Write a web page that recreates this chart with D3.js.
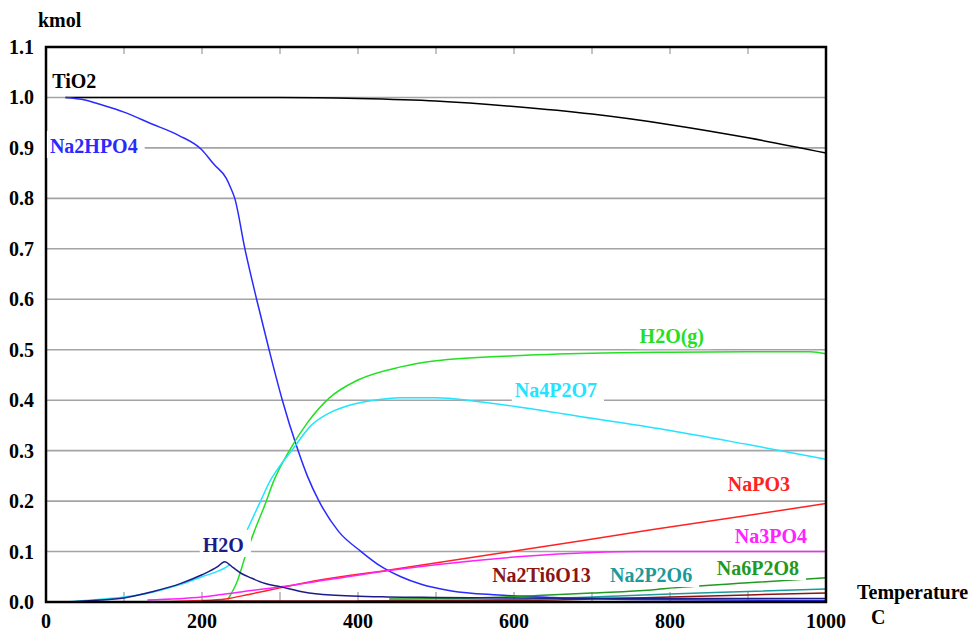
<!DOCTYPE html>
<html>
<head>
  <title>Equilibrium amounts vs temperature</title>
  <script src="https://d3js.org/d3.v7.min.js"></script>
  <style>
    body { margin: 0; background: #fff; }
    text { font-family: "Liberation Serif", "Times New Roman", serif; font-weight: bold; font-size: 20px; }
  </style>
</head>
<body>
<script type="text/javascript">
  // temperatures (C) and amounts (kmol), one pair of arrays per species
  var tio2T = [25, 100, 200, 300, 400, 500, 600, 700, 800, 900, 1000];
  var tio2 = [1.0, 1.0, 1.0, 1.0, 0.998, 0.993, 0.982, 0.967, 0.946, 0.92, 0.89];

  var na2hpo4T = [25, 50, 70, 100, 135, 170, 200, 215, 231, 237, 242, 255, 270, 286, 303, 321, 335, 350, 375, 404, 430, 455, 481, 520, 580, 650, 750, 1000];
  var na2hpo4 = [1.0, 0.995, 0.986, 0.971, 0.948, 0.925, 0.896, 0.868, 0.84, 0.82, 0.80, 0.70, 0.60, 0.50, 0.40, 0.31, 0.25, 0.20, 0.14, 0.10, 0.07, 0.05, 0.035, 0.022, 0.014, 0.009, 0.005, 0.003];

  var h2ogT = [233, 245, 256, 267, 280, 292, 312, 335, 363, 400, 455, 500, 600, 700, 800, 900, 980, 1000];
  var h2og = [0.005, 0.04, 0.093, 0.14, 0.19, 0.24, 0.30, 0.355, 0.404, 0.44, 0.466, 0.478, 0.488, 0.493, 0.495, 0.496, 0.496, 0.492];

  // null marks the break in the Na4P2O7 curve
  var na4p2o7T = [25, 50, 100, 135, 173, 200, 230, 236, 245, 258, 275, 288, 300, 315, 340, 360, 389, 420, 455, 500, 550, 600, 700, 800, 900, 1000];
  var na4p2o7 = [0, 0.003, 0.01, 0.019, 0.035, 0.05, 0.068, 0.074, null, 0.143, 0.2, 0.242, 0.27, 0.30, 0.35, 0.372, 0.39, 0.40, 0.405, 0.405, 0.398, 0.388, 0.364, 0.34, 0.312, 0.283];

  var h2oT = [30, 60, 100, 135, 173, 200, 220, 229, 240, 250, 264, 280, 301, 330, 365, 438, 500, 600, 800, 1000];
  var h2o = [0, 0.003, 0.008, 0.02, 0.037, 0.054, 0.07, 0.08, 0.068, 0.057, 0.047, 0.037, 0.03, 0.02, 0.014, 0.01, 0.009, 0.008, 0.007, 0.007];

  var napo3T = [25, 100, 200, 230, 260, 300, 353, 438, 609, 776, 1000];
  var napo3 = [0, 0, 0.003, 0.006, 0.015, 0.028, 0.044, 0.063, 0.103, 0.143, 0.195];

  var na3po4T = [130, 200, 250, 301, 365, 438, 500, 609, 700, 760, 1000];
  var na3po4 = [0.004, 0.01, 0.02, 0.03, 0.045, 0.062, 0.074, 0.09, 0.098, 0.1, 0.1];

  var na6p2o8T = [440, 550, 630, 700, 776, 805, 900, 1000];
  var na6p2o8 = [0.006, 0.008, 0.013, 0.018, 0.024, 0.028, 0.038, 0.048];

  var na2p2o6T = [400, 500, 600, 700, 800, 900, 1000];
  var na2p2o6 = [0.002, 0.003, 0.005, 0.01, 0.016, 0.021, 0.026];

  var na2ti6o13T = [200, 400, 600, 700, 800, 900, 1000];
  var na2ti6o13 = [0.002, 0.002, 0.003, 0.006, 0.01, 0.014, 0.018];

  var xTicks = [0, 200, 400, 600, 800, 1000];
  var yTicks = [0.0, 0.1, 0.2, 0.3, 0.4, 0.5, 0.6, 0.7, 0.8, 0.9, 1.0, 1.1];

  var w = 972, h = 631;
  var svg = d3.select("body").append("svg")
    .attr("width", w)
    .attr("height", h);

  var x = d3.scaleLinear().domain([0, 1000]).range([46, 826]);
  var y = d3.scaleLinear().domain([0, 1.1]).range([602, 47]);

  function pts(ts, vs) {
    return ts.map(function(t, i){ return [t, vs[i]]; });
  }

  // name, points, colour, label spot in data units (left, baseline)
  var series = [
    { name: "TiO2", d: pts(tio2T, tio2), c: "#000000", lx: 8, ly: 1.019 },
    { name: "Na2HPO4", d: pts(na2hpo4T, na2hpo4), c: "#2a2aff", lx: 5, ly: 0.890 },
    { name: "H2O(g)", d: pts(h2ogT, h2og), c: "#22e022", lx: 761, ly: 0.513 },
    { name: "Na4P2O7", d: pts(na4p2o7T, na4p2o7), c: "#22e4ff", lx: 601, ly: 0.406 },
    { name: "NaPO3", d: pts(napo3T, napo3), c: "#ff2222", lx: 874, ly: 0.220 },
    { name: "Na3PO4", d: pts(na3po4T, na3po4), c: "#ff22ff", lx: 883, ly: 0.117 },
    { name: "Na6P2O8", d: pts(na6p2o8T, na6p2o8), c: "#229922", lx: 860, ly: 0.0535 },
    { name: "Na2P2O6", d: pts(na2p2o6T, na2p2o6), c: "#1a9a9a", lx: 723, ly: 0.0396 },
    { name: "Na2Ti6O13", d: pts(na2ti6o13T, na2ti6o13), c: "#8b1515", lx: 572, ly: 0.0396 },
    { name: "H2O", d: pts(h2oT, h2o), c: "#1c1c88", lx: 201, ly: 0.099 }
  ];

  // grid lines
  svg.selectAll("line.grid")
    .data(yTicks.slice(1, -1))
    .enter()
    .append("line")
    .attr("class", "grid")
    .attr("x1", x(0)).attr("x2", x(1000))
    .attr("y1", function(d){ return y(d); })
    .attr("y2", function(d){ return y(d); })
    .attr("stroke", "#a4a4a4")
    .attr("stroke-width", 1.6);

  // small ticks every 100 on top and bottom edges
  var minor = d3.range(100, 1000, 100);
  svg.selectAll("line.btick")
    .data(minor).enter().append("line")
    .attr("x1", function(d){ return x(d); }).attr("x2", function(d){ return x(d); })
    .attr("y1", y(0)).attr("y2", y(0) - 10)
    .attr("stroke", "#888").attr("stroke-width", 1);
  svg.selectAll("line.ttick")
    .data(minor).enter().append("line")
    .attr("x1", function(d){ return x(d); }).attr("x2", function(d){ return x(d); })
    .attr("y1", y(1.1)).attr("y2", y(1.1) + 7)
    .attr("stroke", "#888").attr("stroke-width", 1);

  var line = d3.line()
    .defined(function(d){ return d[1] !== null; })
    .curve(d3.curveMonotoneX)
    .x(function(d){ return x(d[0]); })
    .y(function(d){ return y(d[1]); });

  svg.selectAll("path.curve")
    .data(series)
    .enter()
    .append("path")
    .attr("class", "curve")
    .attr("d", function(s){ return line(s.d); })
    .attr("fill", "none")
    .attr("stroke", function(s){ return s.c; })
    .attr("stroke-width", 1.5);

  // frame
  svg.append("rect")
    .attr("x", x(0)).attr("y", y(1.1))
    .attr("width", x(1000) - x(0)).attr("height", y(0) - y(1.1))
    .attr("fill", "none")
    .attr("stroke", "#000")
    .attr("stroke-width", 2.5);

  // curve labels on white boxes
  var lab = svg.selectAll("g.lab")
    .data(series)
    .enter()
    .append("g")
    .attr("class", "lab");
  lab.append("text")
    .attr("x", function(s){ return x(s.lx); })
    .attr("y", function(s){ return y(s.ly); })
    .attr("fill", function(s){ return s.c; })
    .text(function(s){ return s.name; });
  lab.each(function(){
    var g = d3.select(this);
    var b = g.select("text").node().getBBox();
    g.insert("rect", "text")
      .attr("x", b.x - 3).attr("y", b.y - 4)
      .attr("width", b.width + 10).attr("height", b.height + 5)
      .attr("fill", "#fff");
  });

  // axis labels
  svg.selectAll("text.yl")
    .data(yTicks).enter().append("text")
    .attr("x", 34)
    .attr("y", function(d){ return y(d) + 7; })
    .attr("text-anchor", "end")
    .text(function(d){ return d.toFixed(1); });

  svg.selectAll("text.xl")
    .data(xTicks).enter().append("text")
    .attr("x", function(d){ return x(d); })
    .attr("y", 628)
    .attr("text-anchor", "middle")
    .text(function(d){ return d; });

  svg.append("text").attr("x", 38).attr("y", 27).text("kmol");
  svg.append("text").attr("x", 857).attr("y", 599).text("Temperature");
  svg.append("text").attr("x", 871).attr("y", 624).text("C");
</script>
</body>
</html>
